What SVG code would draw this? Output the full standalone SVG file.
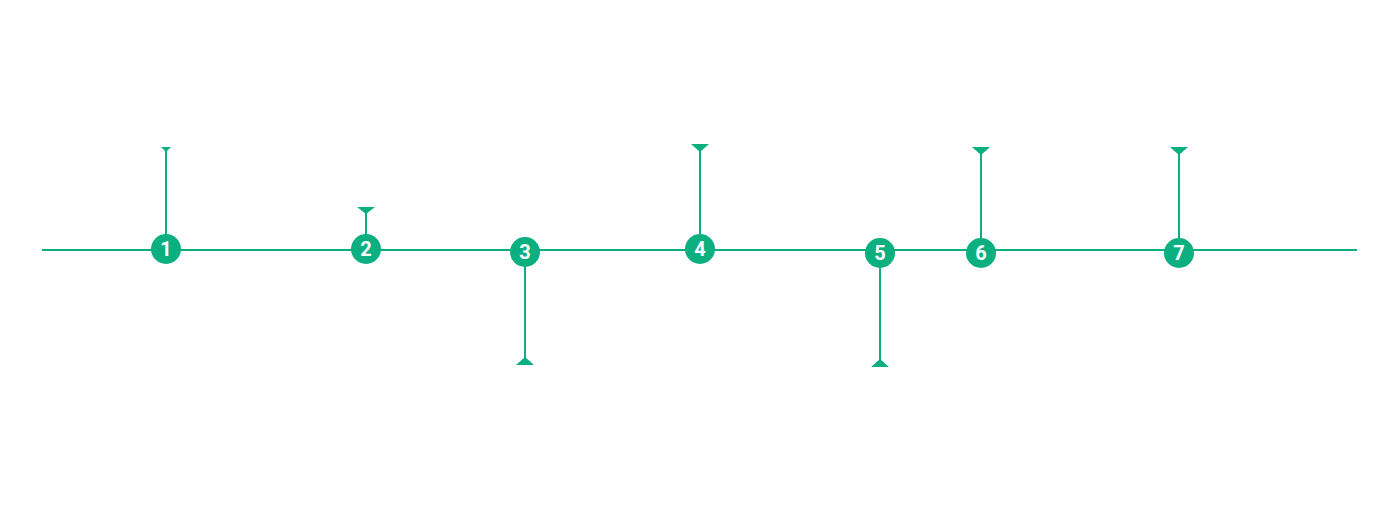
<svg xmlns="http://www.w3.org/2000/svg" width="1400" height="516" viewBox="0 0 1400 516">
<style>
.ln{stroke:#0baf80;stroke-width:2;fill:none}
.tri{fill:#0baf80}
.c{fill:#0baf80}
.t{fill:#fff;font-family:Roboto,"Liberation Sans",sans-serif;font-weight:bold;font-size:20px;text-anchor:middle;dominant-baseline:central}
</style>
<rect width="1400" height="516" fill="#fff"/>
<g id="connectors">
<line class="ln" x1="42" y1="250" x2="1357" y2="250"/>
<line class="ln" x1="166" y1="148" x2="166" y2="249"/>
<path class="tri" d="M161,147 L171,147 L166,152 Z"/>
<line class="ln" x1="366" y1="208" x2="366" y2="249"/>
<path class="tri" d="M357,207 L375,207 L366,214 Z"/>
<line class="ln" x1="525" y1="252" x2="525" y2="364"/>
<path class="tri" d="M516,365 L534,365 L525,357 Z"/>
<line class="ln" x1="700" y1="145" x2="700" y2="249"/>
<path class="tri" d="M691,144 L709,144 L700,152 Z"/>
<line class="ln" x1="880" y1="253" x2="880" y2="366"/>
<path class="tri" d="M871,367 L889,367 L880,359 Z"/>
<line class="ln" x1="981" y1="148" x2="981" y2="253"/>
<path class="tri" d="M972,147 L990,147 L981,155 Z"/>
<line class="ln" x1="1179" y1="148" x2="1179" y2="253"/>
<path class="tri" d="M1170,147 L1188,147 L1179,155 Z"/>
</g>
<g id="n1"><circle class="c" cx="166" cy="249" r="15"/><text class="t" x="166" y="249">1</text></g>
<g id="n2"><circle class="c" cx="366" cy="249" r="15"/><text class="t" x="366" y="249">2</text></g>
<g id="n3"><circle class="c" cx="525" cy="252" r="15"/><text class="t" x="525" y="252">3</text></g>
<g id="n4"><circle class="c" cx="700" cy="249" r="15"/><text class="t" x="700" y="249">4</text></g>
<g id="n5"><circle class="c" cx="880" cy="253" r="15"/><text class="t" x="880" y="253">5</text></g>
<g id="n6"><circle class="c" cx="981" cy="253" r="15"/><text class="t" x="981" y="253">6</text></g>
<g id="n7"><circle class="c" cx="1179" cy="253" r="15"/><text class="t" x="1179" y="253">7</text></g>
</svg>
